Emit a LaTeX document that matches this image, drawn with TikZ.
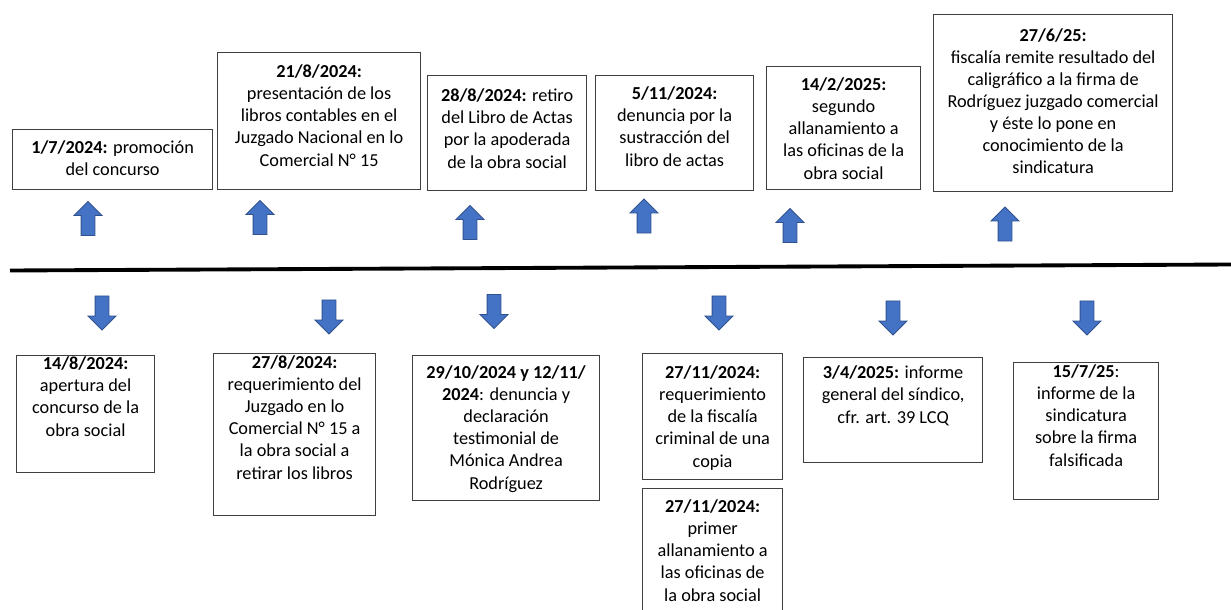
\documentclass[tikz,border=0pt]{standalone}
\usepackage{fontspec}
\setmainfont{Carlito}
\usetikzlibrary{shapes.arrows}
\definecolor{arrowfill}{HTML}{4472C4}
\definecolor{arrowdraw}{HTML}{2F528F}
\definecolor{boxdraw}{HTML}{3F3F3F}
\begin{document}
\begin{tikzpicture}[x=0.2mm, y=-0.2mm,
    event/.style 2 args={draw=boxdraw, line width=0.7pt, minimum width=#1*0.2mm,
      minimum height=#2*0.2mm, inner sep=0, anchor=north west},
    txt/.style={anchor=base, align=center, inner sep=0,
      font=\fontsize{10.4}{12.6}\selectfont},
    pointer/.style={single arrow, draw=arrowdraw, fill=arrowfill, line width=0.5pt,
      minimum height=6.8mm, inner xsep=0, inner ysep=1.3mm,
      single arrow head extend=1.4mm, single arrow tip angle=90,
      single arrow head indent=0},
    uparrow/.style={pointer, rotate=90},
    downarrow/.style={pointer, rotate=-90}
  ]
  \useasboundingbox (0,0) rectangle (1231,610);
  \coordinate (start) at (10,270.5);
  \coordinate (end) at (1231,264.5);
  \draw[line width=2.2pt] (start) -- (end);

  \node[event={200}{60}] (promocion) at (12,129) {};
  \node[txt] (promocion-txt) at (promocion.north |- 0,176)
    {\textbf{1/7/2024:} promoción\\del concurso};
  \node[event={203}{137}] (presentacion) at (217,52) {};
  \node[txt] (presentacion-txt) at (presentacion.north |- 0,166)
    {\textbf{21/8/2024:}\\presentación de los\\libros contables en el\\Juzgado Nacional en lo\\Comercial N° 15};
  \node[event={159}{115}] (retiro) at (427,75) {};
  \node[txt] (retiro-txt) at (retiro.north |- 0,168)
    {\textbf{28/8/2024:} retiro\\del Libro de Actas\\por la apoderada\\de la obra social};
  \node[event={158}{115}] (denuncia) at (595,75) {};
  \node[txt] (denuncia-txt) at (denuncia.north |- 0,166)
    {\textbf{5/11/2024:}\\denuncia por la\\sustracción del\\libro de actas};
  \node[event={154}{123}] (allanamiento2) at (766,66) {};
  \node[txt] (allanamiento2-txt) at (allanamiento2.north |- 0,179)
    {\textbf{14/2/2025:}\\segundo\\allanamiento a\\las oficinas de la\\obra social};
  \node[event={239}{177}] (remision) at (933,14) {};
  \node[txt] (remision-txt) at (remision.north |- 0,174)
    {\textbf{27/6/25:}\\fiscalía remite resultado del\\caligráfico a la firma de\\Rodríguez juzgado comercial\\y éste lo pone en\\conocimiento de la\\sindicatura};

  \node[uparrow] (up1) at (88,222) {};
  \node[uparrow] (up2) at (260,221) {};
  \node[uparrow] (up3) at (470,226) {};
  \node[uparrow] (up4) at (644,219.5) {};
  \node[uparrow] (up5) at (790,229) {};
  \node[uparrow] (up6) at (1005,227.5) {};

  \node[downarrow] (down1) at (102,309.5) {};
  \node[downarrow] (down2) at (329,313.5) {};
  \node[downarrow] (down3) at (494,308) {};
  \node[downarrow] (down4) at (719,309.5) {};
  \node[downarrow] (down5) at (893,314.5) {};
  \node[downarrow] (down6) at (1087,314.5) {};

  \node[event={138}{117}] (apertura) at (16,355) {};
  \node[txt] (apertura-txt) at (apertura.north |- 0,436)
    {\textbf{14/8/2024:}\\apertura del\\concurso de la\\obra social};
  \node[event={162}{162}] (requerimiento) at (213,353) {};
  \node[txt] (requerimiento-txt) at (requerimiento.north |- 0,479)
    {\textbf{27/8/2024:}\\requerimiento del\\Juzgado en lo\\Comercial N° 15 a\\la obra social a\\retirar los libros};
  \node[event={187}{145}] (declaracion) at (412,355) {};
  \node[txt] (declaracion-txt) at (declaracion.north |- 0,489)
    {\textbf{29/10/2024 y 12/11/}\\\textbf{2024}: denuncia y\\declaración\\testimonial de\\Mónica Andrea\\Rodríguez};
  \node[event={140}{126}] (copia) at (642,353) {};
  \node[txt] (copia-txt) at (copia.north |- 0,467)
    {\textbf{27/11/2024:}\\requerimiento\\de la fiscalía\\criminal de una\\copia};
  \node[event={140}{130}] (allanamiento1) at (642,488) {};
  \node[txt] (allanamiento1-txt) at (allanamiento1.north |- 0,601)
    {\textbf{27/11/2024:}\\primer\\allanamiento a\\las oficinas de\\la obra social};
  \node[event={179}{105}] (informe) at (803,357) {};
  \node[txt] (informe-txt) at (informe.north |- 0,423)
    {\textbf{3/4/2025:} informe\\general del síndico,\\cfr. art. 39 LCQ};
  \node[event={145}{137}] (sindicatura) at (1013,362) {};
  \node[txt] (sindicatura-txt) at (sindicatura.north |- 0,466)
    {\textbf{15/7/25}:\\informe de la\\sindicatura\\sobre la firma\\falsificada};
\end{tikzpicture}
\end{document}
